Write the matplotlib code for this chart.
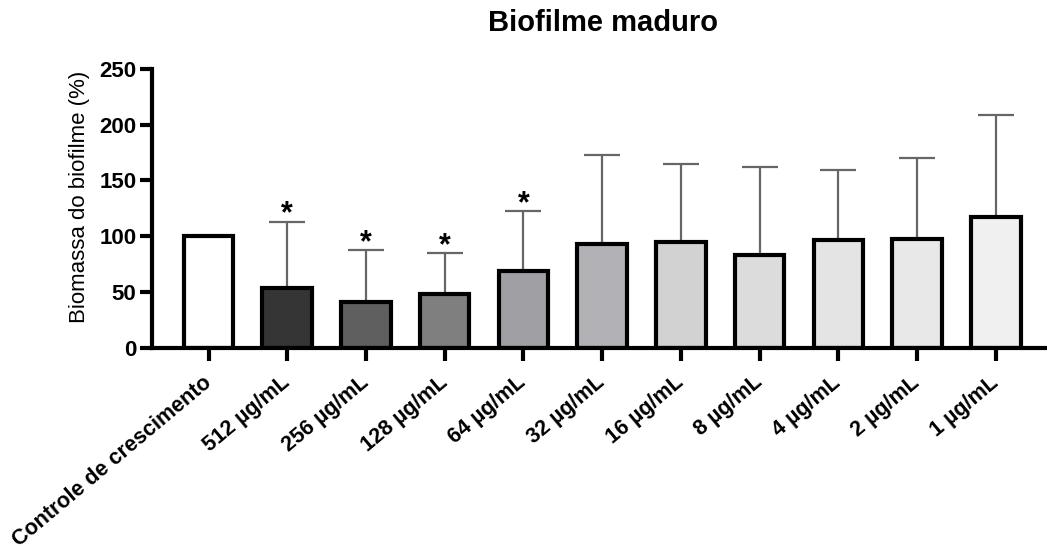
import matplotlib
matplotlib.use('Agg')
import matplotlib.pyplot as plt

plt.rcParams['font.family'] = ['Liberation Sans', 'DejaVu Sans']

labels = ['Controle de crescimento', '512 µg/mL', '256 µg/mL', '128 µg/mL', '64 µg/mL',
          '32 µg/mL', '16 µg/mL', '8 µg/mL', '4 µg/mL', '2 µg/mL', '1 µg/mL']
means = [100, 54, 41, 48, 69, 93, 95, 83, 97, 98, 117]
upper = [100, 113, 87.5, 85, 122.5, 173, 165, 162, 159, 170, 209]
signif = [False, True, True, True, True, False, False, False, False, False, False]
colors = ['#ffffff', '#353535', '#5f5f5f', '#7f7f7f', '#a0a0a4', '#b2b2b6',
          '#d2d2d2', '#dcdcdc', '#e4e4e4', '#e8e8e8', '#f0f0f0']

fig = plt.figure(figsize=(10.47, 5.55), dpi=100)
ax = fig.add_axes([0.145, 0.373, 0.855, 0.503])

x = list(range(len(labels)))
err = [u - m for u, m in zip(upper, means)]
for i in x:
    if err[i] > 0:
        ax.errorbar(i, means[i], yerr=[[0], [err[i]]], fmt='none', ecolor='#666666',
                    elinewidth=1.6, capsize=13, capthick=1.6, zorder=1)
ax.bar(x, means, width=0.63, color=colors, edgecolor='black', linewidth=3, zorder=2)

for i in x:
    if signif[i]:
        ax.text(i, upper[i] - 7, '*', ha='center', va='bottom', fontsize=22,
                fontweight='bold', color='black')

ax.set_xlim(-0.72, 10.65)
ax.set_ylim(0, 250)
ax.set_yticks([0, 50, 100, 150, 200, 250])
ax.set_xticks(x)
ax.set_xticklabels(labels, rotation=40, ha='right', va='center', rotation_mode='anchor',
                   fontsize=15.5, fontweight='bold')
for t in ax.get_yticklabels():
    t.set_fontweight('bold')
    t.set_fontsize(16)
ax.tick_params(axis='y', length=9, width=3, pad=2)
ax.tick_params(axis='x', length=9, width=3, pad=14)
ax.spines['top'].set_visible(False)
ax.spines['right'].set_visible(False)
ax.spines['left'].set_linewidth(3)
ax.spines['bottom'].set_linewidth(3)
ax.set_ylabel('Biomassa do biofilme (%)', fontsize=16)
ax.yaxis.set_label_coords(-0.0685, 0.54)
fig.text(0.576, 0.958, 'Biofilme maduro', ha='center', va='center', fontsize=21, fontweight='bold')

plt.savefig('out.png', dpi=100)
plt.close()
